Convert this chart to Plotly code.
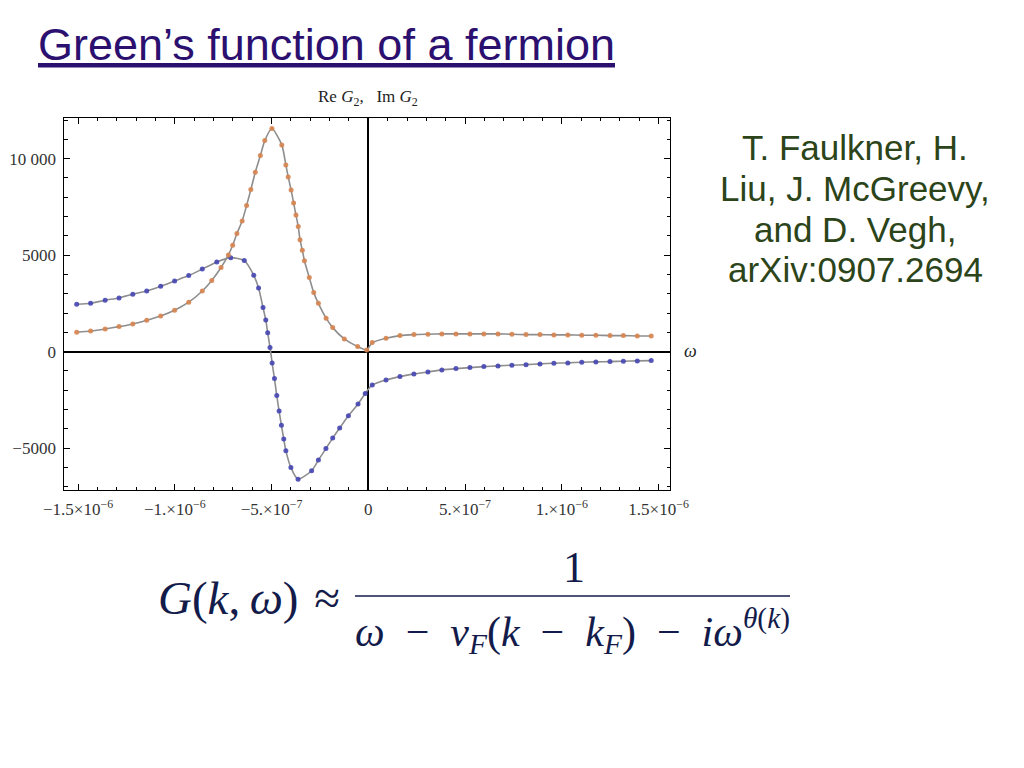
import plotly.graph_objects as go

# ---------------- data ----------------
# omega values in units of 1e-6
im_x_left = [-1.507, -1.435, -1.360, -1.288, -1.217, -1.145, -1.073, -1.001, -0.928, -0.858,
             -0.809, -0.761, -0.723, -0.701, -0.679, -0.652, -0.629, -0.607, -0.584, -0.558,
             -0.535, -0.498, -0.447, -0.426, -0.414, -0.399, -0.386, -0.374, -0.362, -0.353,
             -0.341, -0.330, -0.305, -0.282, -0.258, -0.218, -0.184, -0.124, -0.055, -0.008]
im_y_left = [1005, 1072, 1176, 1295, 1435, 1627, 1850, 2145, 2560, 3140,
             3690, 4360, 5010, 5513, 6114, 6772, 7565, 8394, 9295, 10155,
             10933, 11560, 10710, 9674, 9052, 8378, 7705, 7083, 6477, 5800,
             5250, 4710, 3834, 3057, 2500, 1731, 1244, 658, 259, 88]

re_x_left = [-1.507, -1.435, -1.360, -1.288, -1.217, -1.145, -1.073, -1.001, -0.928, -0.858,
             -0.783, -0.711, -0.641, -0.592, -0.567, -0.544, -0.530, -0.520, -0.508, -0.497,
             -0.485, -0.473, -0.461, -0.449, -0.437, -0.426, -0.400, -0.363, -0.293, -0.258,
             -0.219, -0.184, -0.148, -0.103, -0.053, -0.016]
re_y_left = [2456, 2508, 2663, 2782, 2974, 3145, 3389, 3663, 3938, 4277,
             4648, 4870, 4715, 3956, 3292, 2280, 1642, 984, 218, -585,
             -1396, -2280, -3083, -3816, -4531, -5130, -6008, -6611, -6174, -5619,
             -5023, -4480, -3961, -3324, -2718, -2166]

x_right = [0.0203, 0.0914, 0.1636, 0.2357, 0.308, 0.380, 0.453, 0.525, 0.597, 0.670,
           0.742, 0.815, 0.887, 0.959, 1.031, 1.103, 1.176, 1.249, 1.318, 1.390, 1.462]
im_y_right = [466, 694, 829, 881, 901, 917, 917, 917, 917, 917,
              901, 881, 881, 865, 865, 850, 850, 829, 829, 813, 813]
re_y_right = [-1725, -1466, -1295, -1155, -1052, -948, -881, -829, -777, -741,
              -705, -674, -637, -601, -585, -549, -534, -518, -497, -482, -466]

x_tick_vals = [-1.5e-6, -1e-6, -5e-7, 0, 5e-7, 1e-6, 1.5e-6]
x_tick_text = ["−1.5×10<sup>−6</sup>", "−1.×10<sup>−6</sup>", "−5.×10<sup>−7</sup>", "0",
               "5.×10<sup>−7</sup>", "1.×10<sup>−6</sup>", "1.5×10<sup>−6</sup>"]
y_tick_vals = [-5000, 0, 5000, 10000]
y_tick_text = ["−5000", "0", "5000", "10 000"]

citation_lines = ["T. Faulkner, H.", "Liu, J. McGreevy,", "and D. Vegh,", "arXiv:0907.2694"]

# ---------------- figure ----------------
# the page body has an 8px margin; the figure fills the rest of the 1024x768 window
OFF = 8
W, H = 1024 - 2 * OFF, 768 - 2 * OFF
def fx(p): return (p - OFF) / W
def fy(p): return 1 - (p - OFF) / H

re_x = [v * 1e-6 for v in re_x_left + x_right]
re_y = re_y_left + re_y_right
im_x = [v * 1e-6 for v in im_x_left + x_right]
im_y = im_y_left + im_y_right

fig = go.Figure()
fig.add_trace(go.Scatter(
    x=re_x, y=re_y, mode="lines+markers", name="Re G2",
    line=dict(color="#8E8E8E", width=1.6, shape="spline", smoothing=0.6),
    marker=dict(color="#4646B4", size=5, opacity=0.9),
))
fig.add_trace(go.Scatter(
    x=im_x, y=im_y, mode="lines+markers", name="Im G2",
    line=dict(color="#8E8E8E", width=1.6, shape="spline", smoothing=0.6),
    marker=dict(color="#D6844F", size=5, opacity=0.9),
))

axis_font = dict(family="Liberation Serif", size=17, color="#333333")
fig.update_layout(
    width=W, height=H, margin=dict(l=0, r=0, t=0, b=0),
    paper_bgcolor="white", plot_bgcolor="white", showlegend=False,
    xaxis=dict(
        domain=[fx(64.3), fx(670)], range=[-1.571e-6, 1.559e-6], automargin=False,
        tickmode="array", tickvals=x_tick_vals, ticktext=x_tick_text,
        ticks="inside", ticklen=6, tickwidth=1, tickcolor="black", ticklabelstandoff=4,
        minor=dict(ticks="inside", tick0=0, dtick=1e-7, ticklen=3.5, tickcolor="black", showgrid=False),
        showline=True, linecolor="black", linewidth=1, mirror="allticks",
        showgrid=False, zeroline=True, zerolinecolor="black", zerolinewidth=1.6,
        tickfont=axis_font,
    ),
    yaxis=dict(
        domain=[fy(490), fy(117.7)], range=[-7170, 12120], automargin=False,
        tickmode="array", tickvals=y_tick_vals, ticktext=y_tick_text,
        ticks="inside", ticklen=6, tickwidth=1, tickcolor="black", ticklabelstandoff=4,
        minor=dict(ticks="inside", tick0=0, dtick=1000, ticklen=3.5, tickcolor="black", showgrid=False),
        showline=True, linecolor="black", linewidth=1, mirror="allticks",
        showgrid=False, zeroline=True, zerolinecolor="black", zerolinewidth=1.6,
        tickfont=axis_font,
    ),
)

ann = []
# slide title
ann.append(dict(x=fx(36), y=fy(45), xref="paper", yref="paper", xanchor="left", yanchor="middle",
                text="<u>Green’s function of a fermion</u>", showarrow=False,
                font=dict(family="Liberation Sans", size=45, color="#2C1070")))
# plot label
ann.append(dict(x=fx(368), y=fy(98), xref="paper", yref="paper", xanchor="center", yanchor="middle",
                text="Re <i>G</i><sub>2</sub>,\u2002 Im <i>G</i><sub>2</sub>", showarrow=False,
                font=dict(family="Liberation Serif", size=17, color="#222222")))
# axis label
ann.append(dict(x=fx(690), y=fy(351), xref="paper", yref="paper", xanchor="center", yanchor="middle",
                text="<i>ω</i>", showarrow=False,
                font=dict(family="Liberation Serif", size=18, color="#222222")))
# citation
for i, line in enumerate(citation_lines):
    ann.append(dict(x=fx(855), y=fy(147 + 41 * i), xref="paper", yref="paper",
                    xanchor="center", yanchor="middle", text=line, showarrow=False,
                    font=dict(family="Liberation Sans", size=35, color="#2C4419")))
# formula
fcol = "#131B4A"
ann.append(dict(x=fx(342), y=fy(598), xref="paper", yref="paper", xanchor="right", yanchor="middle",
                text="<i>G</i>(<i>k</i>,\u2009<i>ω</i>)\u2004≈", showarrow=False,
                font=dict(family="Liberation Serif", size=47, color=fcol)))
ann.append(dict(x=fx(574), y=fy(567), xref="paper", yref="paper", xanchor="center", yanchor="middle",
                text="1", showarrow=False,
                font=dict(family="Liberation Serif", size=44, color=fcol)))
ann.append(dict(x=fx(572), y=fy(631), xref="paper", yref="paper", xanchor="center", yanchor="middle",
                text="<i>ω</i>\u2002−\u2002<i>v</i><sub><i>F</i></sub>(<i>k</i>\u2002−\u2002<i>k</i><sub><i>F</i></sub>)\u2002−\u2002<i>iω</i><sup><i>θ</i>(<i>k</i>)</sup>",
                showarrow=False,
                font=dict(family="Liberation Serif", size=42, color=fcol)))
fig.update_layout(annotations=ann)

fig.add_shape(type="line", xref="paper", yref="paper",
              x0=fx(355), x1=fx(790), y0=fy(596), y1=fy(596),
              line=dict(color=fcol, width=1.6))

fig.write_html("out.html", config={"displayModeBar": False})
